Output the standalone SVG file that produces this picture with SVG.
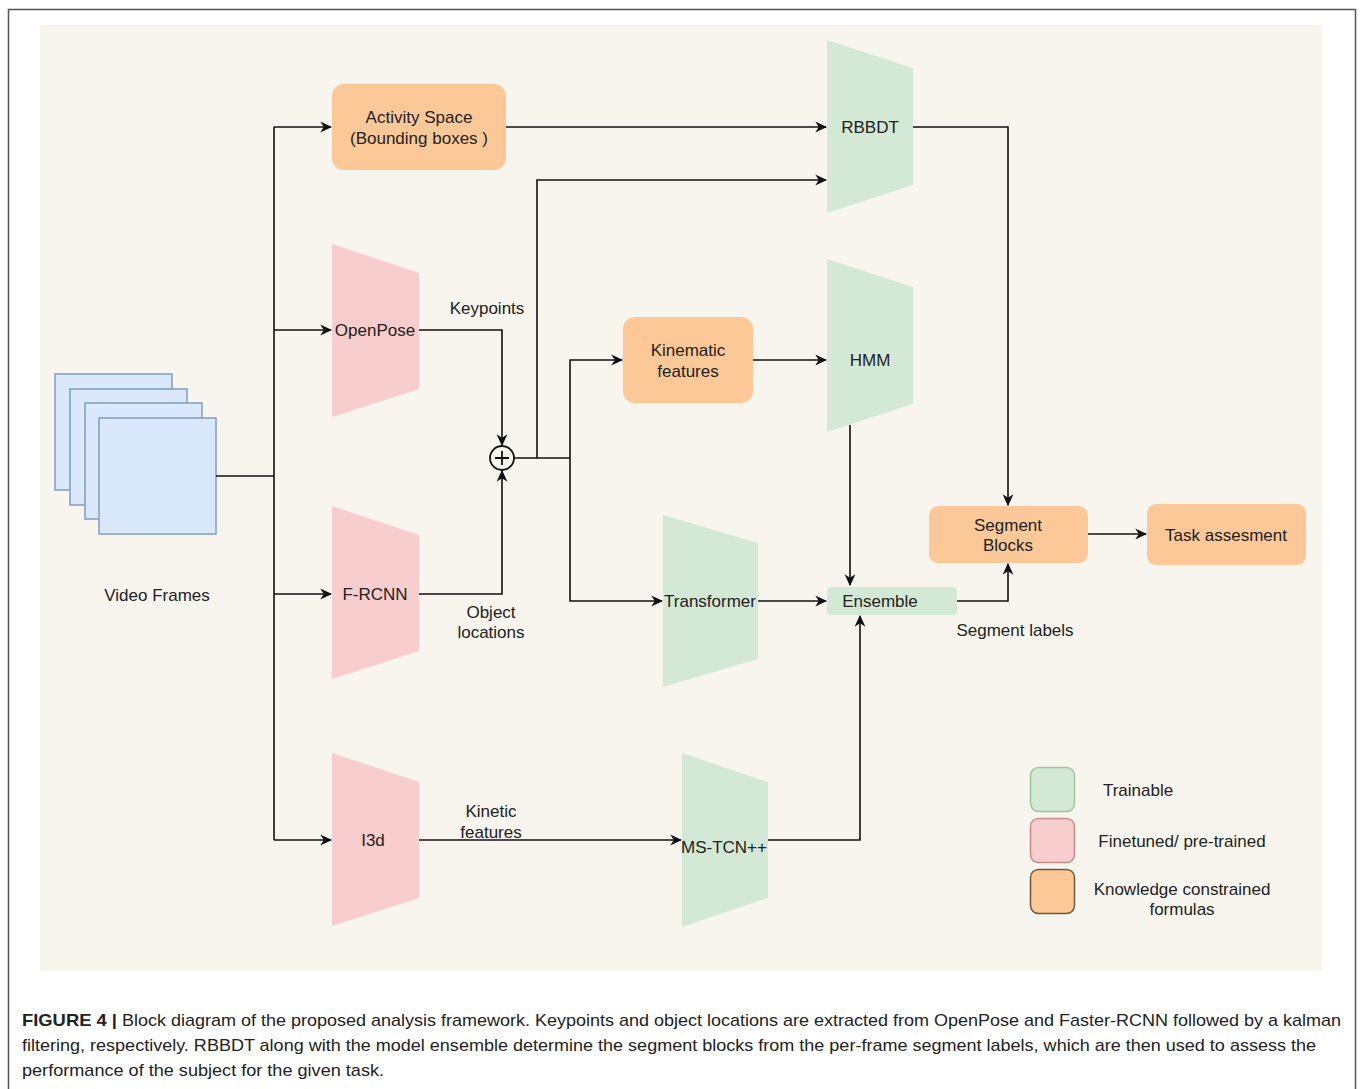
<svg xmlns="http://www.w3.org/2000/svg" width="1360" height="1089" viewBox="0 0 1360 1089">
<defs>
<marker id="arr" viewBox="0 0 10 10" refX="9" refY="5" markerWidth="12" markerHeight="12" markerUnits="userSpaceOnUse" orient="auto">
<path d="M0,0.5 L10,5 L0,9.5 L3,5 z" fill="#111"/>
</marker>
<style>
.t{font-family:"Liberation Sans",Arial,sans-serif;font-size:17px;fill:#222;text-anchor:middle}
.cap{font-family:"Liberation Sans",Arial,sans-serif;font-size:17px;fill:#222}
.green{fill:#d4e8d6}
.pink{fill:#f7cdcd}
.orange{fill:#fdc897}
.frame{fill:#dae8fc;stroke:#7f9cc4;stroke-width:1.5}
.ln{fill:none;stroke:#111;stroke-width:1.6}
.ar{fill:none;stroke:#111;stroke-width:1.6;marker-end:url(#arr)}
</style>
</defs>
<rect x="0" y="0" width="1360" height="1089" fill="#ffffff"/>
<rect x="8.5" y="9.5" width="1347" height="1100" fill="none" stroke="#555" stroke-width="1.5"/>
<rect x="40" y="25" width="1282" height="946" fill="#f8f5ee"/>

<g id="video-frames">
<rect class="frame" x="55" y="374" width="117" height="116"/>
<rect class="frame" x="70" y="389" width="117" height="116"/>
<rect class="frame" x="85" y="403" width="117" height="116"/>
<rect class="frame" x="99" y="418" width="117" height="116"/>
<text class="t" x="157" y="601">Video Frames</text>
</g>

<g id="activity-space">
<rect class="orange" x="332" y="84" width="174" height="86" rx="12"/>
<text class="t" x="419" y="123">Activity Space</text>
<text class="t" x="419" y="144">(Bounding boxes )</text>
</g>

<g id="openpose">
<polygon class="pink" points="332,244 419,273 419,389 332,417"/>
<text class="t" x="375" y="336">OpenPose</text>
</g>

<g id="frcnn">
<polygon class="pink" points="332,506 419,535 419,651 332,679"/>
<text class="t" x="375" y="600">F-RCNN</text>
</g>

<g id="i3d">
<polygon class="pink" points="332,753 419,782 419,898 332,926"/>
<text class="t" x="373" y="846">I3d</text>
</g>

<g id="sum">
<circle cx="502" cy="458" r="12" fill="none" stroke="#111" stroke-width="1.8"/>
<path d="M502,451 V465 M495,458 H509" stroke="#111" stroke-width="1.8"/>
</g>

<g id="kinematic">
<rect class="orange" x="623" y="317" width="130" height="86" rx="12"/>
<text class="t" x="688" y="356">Kinematic</text>
<text class="t" x="688" y="377">features</text>
</g>

<g id="rbbdt">
<polygon class="green" points="827,40 913,68 913,185 827,213"/>
<text class="t" x="870" y="133">RBBDT</text>
</g>

<g id="hmm">
<polygon class="green" points="827,259 913,287 913,404 827,432"/>
<text class="t" x="870" y="366">HMM</text>
</g>

<g id="transformer">
<polygon class="green" points="663,515 758,543 758,659 663,687"/>
<text class="t" x="710" y="607">Transformer</text>
</g>

<g id="mstcn">
<polygon class="green" points="682,753 768,782 768,898 682,927"/>
<text class="t" x="724" y="853">MS-TCN++</text>
</g>

<g id="ensemble">
<rect class="green" x="827" y="587" width="130" height="28" rx="4"/>
<text class="t" x="880" y="607">Ensemble</text>
</g>

<g id="segment-blocks">
<rect class="orange" x="929" y="506" width="159" height="57" rx="9"/>
<text class="t" x="1008" y="531">Segment</text>
<text class="t" x="1008" y="551">Blocks</text>
</g>

<g id="task">
<rect class="orange" x="1147" y="504" width="159" height="61" rx="9"/>
<text class="t" x="1226" y="541">Task assesment</text>
</g>

<g id="connectors">
<path class="ln" d="M216,476 H274 M274,127 V840"/>
<path class="ar" d="M274,127 H331"/>
<path class="ar" d="M274,330 H331"/>
<path class="ar" d="M274,594 H331"/>
<path class="ar" d="M274,840 H331"/>
<path class="ar" d="M506,127 H826"/>
<path class="ar" d="M419,330 H502 V445"/>
<path class="ar" d="M419,594 H502 V471"/>
<path class="ln" d="M514,458 H570"/>
<path class="ar" d="M537,458 V180 H826"/>
<path class="ar" d="M570,458 V360 H622"/>
<path class="ar" d="M570,458 V601 H662"/>
<path class="ar" d="M753,360 H826"/>
<path class="ar" d="M850,425 V585"/>
<path class="ar" d="M758,601 H826"/>
<path class="ar" d="M419,840 H681"/>
<path class="ar" d="M768,840 H860 V616"/>
<path class="ar" d="M957,601 H1008 V564"/>
<path class="ar" d="M913,127 H1008 V505"/>
<path class="ar" d="M1088,534 H1146"/>
</g>

<g id="labels">
<text class="t" x="487" y="314">Keypoints</text>
<text class="t" x="491" y="618">Object</text>
<text class="t" x="491" y="638">locations</text>
<text class="t" x="491" y="817">Kinetic</text>
<text class="t" x="491" y="838">features</text>
<text class="t" x="1015" y="636">Segment labels</text>
</g>

<g id="legend">
<rect x="1030.5" y="767.5" width="44" height="44" rx="8" fill="#d4e8d6" stroke="#9cc79a" stroke-width="1.5"/>
<rect x="1030.5" y="818.5" width="44" height="44" rx="8" fill="#f7cdcd" stroke="#c98a8a" stroke-width="1.5"/>
<rect x="1030.5" y="869.5" width="44" height="44" rx="8" fill="#fdc897" stroke="#6b5840" stroke-width="1.5"/>
<text class="t" x="1138" y="796">Trainable</text>
<text class="t" x="1182" y="847">Finetuned/ pre-trained</text>
<text class="t" x="1182" y="895">Knowledge constrained</text>
<text class="t" x="1182" y="915">formulas</text>
</g>

<g id="caption">
<text class="cap" x="22" y="1026" font-weight="bold" textLength="95" lengthAdjust="spacingAndGlyphs">FIGURE 4 |</text>
<text class="cap" x="122" y="1026" textLength="1219" lengthAdjust="spacingAndGlyphs">Block diagram of the proposed analysis framework. Keypoints and object locations are extracted from OpenPose and Faster-RCNN followed by a kalman</text>
<text class="cap" x="22" y="1051" textLength="1294" lengthAdjust="spacingAndGlyphs">filtering, respectively. RBBDT along with the model ensemble determine the segment blocks from the per-frame segment labels, which are then used to assess the</text>
<text class="cap" x="22" y="1076" textLength="362" lengthAdjust="spacingAndGlyphs">performance of the subject for the given task.</text>
</g>
</svg>
